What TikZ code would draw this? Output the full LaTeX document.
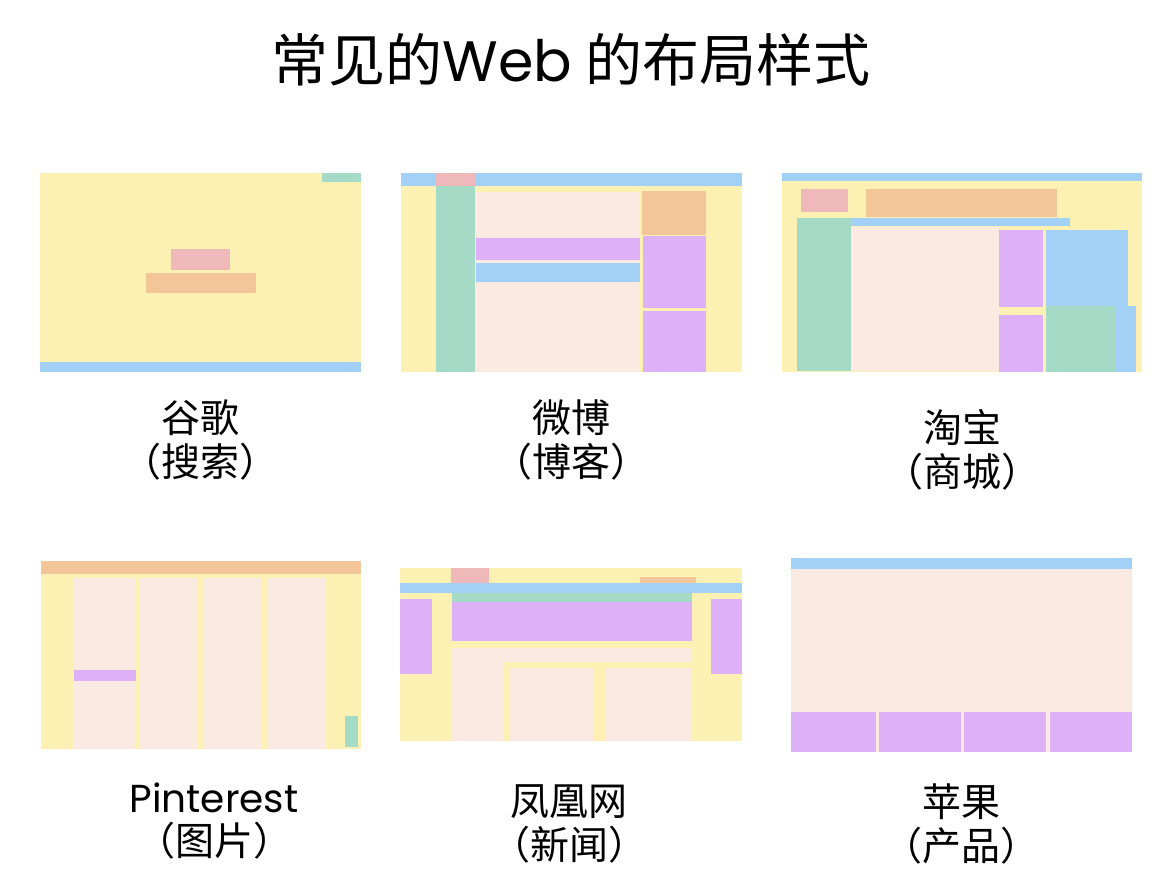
\documentclass[tikz,border=0pt]{standalone}
\usepackage{fontspec}
\setmainfont{Noto Sans CJK SC}
\newfontfamily\latinfont{Poppins}
\definecolor{cyel}{HTML}{FCF1B3}
\definecolor{cgrn}{HTML}{A4DAC6}
\definecolor{cblu}{HTML}{A3D0F7}
\definecolor{cpnk}{HTML}{EFB9BA}
\definecolor{corg}{HTML}{F2C698}
\definecolor{cpch}{HTML}{FBEAE2}
\definecolor{cpur}{HTML}{DDB0F8}
\tikzset{
  lbl/.style={align=center, font=\fontsize{39}{44}\selectfont, inner sep=0pt},
  one/.style={font=\fontsize{39}{44}\selectfont, inner sep=0pt},
  ttl/.style={font=\fontsize{57}{60}\selectfont, inner sep=0pt}
}
\newcommand{\blk}[5]{\fill[#1] (#2,#3) rectangle (#4,#5);}
\begin{document}
\begin{tikzpicture}[x=1pt,y=-1pt]
\useasboundingbox[fill=white] (0,0) rectangle (1170,886);
% title
\node[ttl] (title) at (571,60) {常见的{\latinfont Web} 的布局样式};

% ---------- panel 1: Google ----------
\blk{cyel}{40}{173}{361}{362}
\blk{cgrn}{322}{173}{361}{182}
\blk{cpnk}{171}{249}{230}{270}
\blk{corg}{146}{273}{256}{293}
\blk{cblu}{40}{362}{361}{372}
\node[lbl] (l1) at (200,440) {谷歌\\（搜索）};

% ---------- panel 2: Weibo ----------
\blk{cyel}{401}{186}{742}{372}
\blk{cblu}{401}{173}{742}{186}
\blk{cpnk}{436}{173}{475}{186}
\blk{cgrn}{436}{186}{475}{372}
\blk{cpch}{476}{192}{640}{372}
\blk{cpur}{476}{238}{640}{260}
\blk{cblu}{476}{263}{640}{282}
\blk{corg}{642}{191}{706}{235}
\blk{cpur}{643}{236}{706}{308}
\blk{cpur}{643}{311}{706}{372}
\node[lbl] (l2) at (571,440) {微博\\（博客）};

% ---------- panel 3: Taobao ----------
\blk{cyel}{782}{181}{1142}{372}
\blk{cblu}{782}{173}{1142}{181}
\blk{cpnk}{801}{189}{848}{212}
\blk{corg}{866}{189}{1057}{217}
\blk{cblu}{850}{218}{1070}{226}
\blk{cgrn}{797}{218}{851}{371}
\blk{cpch}{851}{227}{999}{371}
\blk{cpur}{999}{230}{1043}{307}
\blk{cpur}{999}{315}{1043}{372}
\blk{cblu}{1046}{230}{1128}{306}
\blk{cblu}{1116}{306}{1136}{372}
\blk{cgrn}{1046}{306}{1116}{372}
\node[lbl] (l3) at (962,450) {淘宝\\（商城）};

% ---------- panel 4: Pinterest ----------
\blk{cyel}{41}{574}{361}{749}
\blk{corg}{41}{561}{361}{574}
\blk{cpch}{74}{578}{136}{749}
\blk{cpch}{140}{578}{198}{749}
\blk{cpch}{203}{578}{262}{749}
\blk{cpch}{267}{578}{326}{749}
\blk{cpur}{74}{670}{136}{681}
\blk{cgrn}{345}{716}{358}{747}
\node[one, anchor=base] (l4a) at (214,812) {\latinfont Pinterest};
\node[one, anchor=base] (l4b) at (214,855) {（图片）};

% ---------- panel 5: ifeng ----------
\blk{cyel}{400}{568}{742}{741}
\blk{cpnk}{451}{568}{489}{583}
\blk{corg}{640}{577}{696}{583}
\blk{cblu}{400}{583}{742}{593}
\blk{cgrn}{452}{593}{692}{602}
\blk{cpur}{452}{602}{692}{641}
\blk{cpur}{400}{599}{432}{674}
\blk{cpur}{711}{599}{742}{674}
\blk{cpch}{452}{648}{692}{741}
\blk{cyel}{503}{662}{692}{741}
\blk{cpch}{510}{668}{594}{741}
\blk{cpch}{605}{668}{692}{741}
\node[lbl] (l5) at (569,824) {凤凰网\\（新闻）};

% ---------- panel 6: Apple ----------
\blk{cpch}{791}{569}{1132}{752}
\blk{cblu}{791}{558}{1132}{569}
\blk{cpur}{791}{712}{876}{752}
\blk{cpur}{879}{712}{961}{752}
\blk{cpur}{964}{712}{1046}{752}
\blk{cpur}{1050}{712}{1132}{752}
\node[lbl] (l6) at (961,824) {苹果\\（产品）};
\end{tikzpicture}
\end{document}
